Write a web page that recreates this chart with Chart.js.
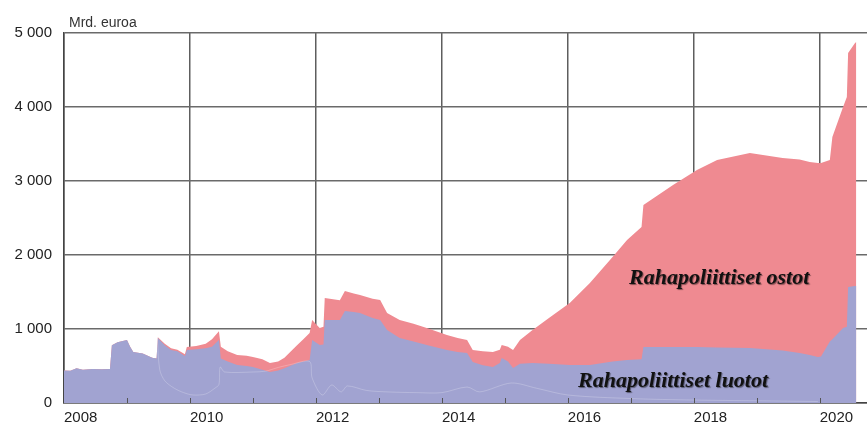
<!DOCTYPE html>
<html>
<head>
<meta charset="utf-8">
<script src="https://cdn.jsdelivr.net/npm/chart.js@4"></script>
<style>
  html, body { margin: 0; padding: 0; background: #fff; }
  #wrap { width: 867px; height: 425px; position: relative; }
</style>
</head>
<body>
<div id="wrap"><canvas id="chart"></canvas></div>
<script>
// ---- data (mrd. euroa), dates as decimal years ----
const dates = [
  2008.00, 2008.10, 2008.20, 2008.30, 2008.45, 2008.60, 2008.73, 2008.76, 2008.85, 2009.00,
  2009.05, 2009.10, 2009.25, 2009.40, 2009.47, 2009.49, 2009.60, 2009.70, 2009.80, 2009.92,
  2009.95, 2010.10, 2010.25, 2010.35, 2010.46, 2010.49, 2010.60, 2010.75, 2010.90, 2011.00,
  2011.15, 2011.27, 2011.40, 2011.50, 2011.70, 2011.80, 2011.90, 2011.94, 2012.06, 2012.12,
  2012.14, 2012.38, 2012.46, 2012.60, 2012.70, 2012.90, 2013.02, 2013.13, 2013.33, 2013.55,
  2013.76, 2014.08, 2014.25, 2014.40, 2014.49, 2014.65, 2014.81, 2014.92, 2014.95, 2015.05,
  2015.13, 2015.24, 2015.44, 2015.70, 2016.03, 2016.35, 2016.71, 2016.94, 2017.17, 2017.20,
  2017.67, 2018.05, 2018.37, 2018.89, 2019.41, 2019.68, 2019.84, 2019.97, 2020.02, 2020.16,
  2020.20, 2020.37, 2020.43, 2020.45, 2020.56, 2020.58
];

// Rahapoliittiset luotot
const luotot = [
  440, 435, 470, 450, 460, 455, 460, 780, 820, 850,
  760, 690, 670, 610, 600, 880, 780, 715, 700, 635,
  716, 725, 740, 760, 850, 600, 560, 514, 500, 486,
  450, 420, 440, 470, 540, 560, 580, 850, 784, 790,
  1120, 1120, 1243, 1230, 1216, 1150, 1122, 986, 878, 830,
  784, 716, 690, 676, 554, 510, 486, 540, 608, 560,
  473, 530, 541, 530, 514, 514, 560, 581, 590, 757,
  757, 757, 750, 743, 710, 676, 650, 622, 630, 830,
  860, 1014, 1030, 1568, 1580, 1580
];

// Rahapoliittiset ostot
const ostot = [
  0, 0, 0, 0, 0, 0, 0, 0, 0, 0,
  0, 0, 0, 0, 0, 10, 20, 25, 20, 25,
  41, 45, 60, 100, 120, 160, 140, 136, 140, 136,
  140, 120, 120, 140, 240, 300, 366, 270, 230, 240,
  300, 270, 271, 250, 243, 260, 270, 230, 244, 240,
  230, 203, 190, 175, 162, 190, 203, 180, 176, 200,
  243, 321, 445, 620, 837, 1108, 1413, 1622, 1788, 1919,
  2189, 2392, 2534, 2635, 2601, 2614, 2607, 2621, 2613, 2454,
  2735, 2986, 3105, 3162, 3285, 3300
];

// faint inner line within the lending area
const osaDates = [
  2009.48, 2009.52, 2009.60, 2009.75, 2009.90, 2010.05, 2010.25, 2010.40, 2010.46, 2010.48,
  2010.55, 2011.00, 2011.20, 2011.40, 2011.60, 2011.90, 2011.94, 2012.10, 2012.25, 2012.40,
  2012.50, 2012.80, 2013.13, 2013.60, 2014.00, 2014.40, 2014.60, 2015.10, 2015.50, 2016.00,
  2017.00, 2018.00, 2019.00, 2019.97
];
const osaArvot = [
  880, 450, 300, 200, 140, 108, 122, 203, 250, 486,
  419, 419, 430, 480, 520, 560, 338, 108, 243, 150,
  230, 170, 150, 140, 140, 216, 150, 270, 200, 108,
  60, 40, 30, 20
];

const yTicks = [0, 1000, 2000, 3000, 4000, 5000];
const xLabels = [2008, 2010, 2012, 2014, 2016, 2018, 2020];

const total = luotot.map((v, i) => v + ostot[i]);
const pts = (xs, ys) => xs.map((x, i) => ({ x: x, y: ys[i] }));

// text, unit label and small inward year ticks
const extras = {
  id: "extras",
  afterDatasetsDraw(chart) {
    const { ctx, scales } = chart;
    const x = scales.x, y = scales.y;
    ctx.save();
    ctx.strokeStyle = "#555";
    ctx.lineWidth = 1;
    for (let yr = 2009; yr <= 2020; yr++) {
      const px = Math.round(x.getPixelForValue(yr)) + 0.5;
      ctx.beginPath();
      ctx.moveTo(px, y.bottom);
      ctx.lineTo(px, y.bottom - 5);
      ctx.stroke();
    }
    ctx.fillStyle = "#111";
    ctx.textBaseline = "alphabetic";
    ctx.textAlign = "left";
    ctx.shadowColor = "rgba(0,0,0,0.45)";
    ctx.shadowOffsetX = 1;
    ctx.shadowOffsetY = 1;
    ctx.shadowBlur = 1;
    ctx.font = "bold italic 22px 'Liberation Serif', 'Times New Roman', serif";
    ctx.fillText("Rahapoliittiset ostot", 629, 284);
    ctx.fillText("Rahapoliittiset luotot", 578, 387);
    ctx.restore();

    ctx.save();
    ctx.fillStyle = "#333";
    ctx.font = "14px 'Liberation Sans', Arial, sans-serif";
    ctx.fillText("Mrd. euroa", 69, 27);
    ctx.restore();
  }
};

new Chart(document.getElementById("chart"), {
  type: "line",
  data: {
    datasets: [
      {
        data: pts(osaDates, osaArvot),
        borderColor: "rgba(255,255,255,0.22)",
        borderWidth: 1,
        fill: false,
        pointRadius: 0,
        tension: 0.3
      },
      {
        data: pts(dates, luotot),
        backgroundColor: "#a1a3d1",
        borderWidth: 0,
        fill: "origin",
        pointRadius: 0,
        tension: 0
      },
      {
        data: pts(dates, total),
        backgroundColor: "#ef8a91",
        borderWidth: 0,
        fill: "origin",
        pointRadius: 0,
        tension: 0
      }
    ]
  },
  options: {
    responsive: true,
    maintainAspectRatio: false,
    animation: false,
    layout: { padding: { top: 33, right: 0, left: 0, bottom: 0 } },
    plugins: {
      legend: { display: false },
      tooltip: { enabled: false }
    },
    scales: {
      x: {
        type: "linear",
        min: 2008,
        max: 2020.75,
        afterFit(scale) { scale.height = 22; },
        ticks: {
          stepSize: 1,
          includeBounds: false,
          autoSkip: false,
          maxRotation: 0,
          align: "start",
          padding: 6,
          color: "#222",
          font: { size: 15, family: "'Liberation Sans', Arial, sans-serif" },
          callback: v => xLabels.includes(v) ? String(v) : ""
        },
        grid: {
          drawTicks: false,
          lineWidth: 1.5,
          color: c => (c.tick && xLabels.includes(c.tick.value)) ? "#5e5e5e" : "rgba(0,0,0,0)"
        },
        border: { display: true, color: "#444", width: 1.5 }
      },
      y: {
        min: 0,
        max: 5000,
        afterFit(scale) { scale.width = 64; },
        afterBuildTicks(scale) { scale.ticks = yTicks.map(v => ({ value: v })); },
        ticks: {
          padding: 12,
          color: "#222",
          font: { size: 15, family: "'Liberation Sans', Arial, sans-serif" },
          callback: v => String(v).replace(/\B(?=(\d{3})+(?!\d))/g, " ")
        },
        grid: { drawTicks: false, color: "#6a6a6a", lineWidth: 1.5 },
        border: { display: true, color: "#444", width: 1.5 }
      }
    }
  },
  plugins: [extras]
});
</script>
</body>
</html>
